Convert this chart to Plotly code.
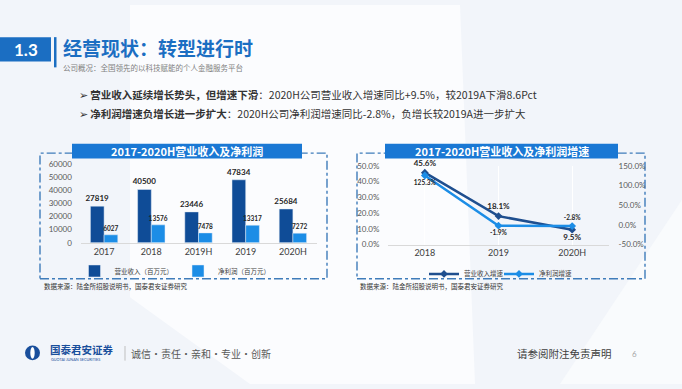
import plotly.graph_objects as go

W, H = 682, 389


def px(x):
    return x / W


def py(y):
    return 1 - y / H


# ---------------- data ----------------
bar_categories = ["2017", "2018", "2019H", "2019", "2020H"]
revenue = [27819, 40500, 23446, 47834, 25684]
net_profit = [6027, 13576, 7478, 13317, 7272]
bar_yticks = [0, 10000, 20000, 30000, 40000, 50000, 60000]

growth_categories = ["2018", "2019", "2020H"]
revenue_growth = [45.6, 18.1, 9.5]
profit_growth = [125.3, -1.9, -2.8]
left_pct_ticks = [0, 10, 20, 30, 40, 50]
right_pct_ticks = [-50, 0, 50, 100, 150]

CJK = "Noto Sans CJK SC"
NUM = "Lato, Noto Sans CJK SC"
DARK = "#0f4c97"
LIGHT = "#1c8de6"
TITLE_BLUE = "#1b6ec2"

fig = go.Figure()

# ---------------- bar chart ----------------
fig.add_trace(go.Bar(
    x=bar_categories, y=revenue, name="营业收入（百万元）",
    marker=dict(color=DARK), text=[str(v) for v in revenue],
    textposition="outside", cliponaxis=False, constraintext="none",
    textfont=dict(family=NUM, size=8, color="#262626", weight="bold"),
    xaxis="x", yaxis="y", legend="legend", offsetgroup="a",
))
fig.add_trace(go.Bar(
    x=bar_categories, y=net_profit, name="净利润（百万元）",
    marker=dict(color=LIGHT), text=[str(v) for v in net_profit],
    textposition="outside", cliponaxis=False, constraintext="none",
    textfont=dict(family=NUM, size=6.5, color="#262626", weight="bold"),
    xaxis="x", yaxis="y", legend="legend", offsetgroup="b",
))

# ---------------- line chart ----------------
fig.add_trace(go.Scatter(
    x=growth_categories, y=revenue_growth, name="营业收入增速",
    mode="lines+markers+text",
    line=dict(color="#1f4f8f", width=2.5),
    marker=dict(symbol="diamond", size=6, color="#1f4f8f"),
    text=[f"{v:.1f}%" for v in revenue_growth],
    textposition=["top center", "top center", "bottom center"],
    textfont=dict(family=NUM, size=8, color="#262626", weight="bold"),
    cliponaxis=False, xaxis="x2", yaxis="y2", legend="legend2",
))
fig.add_trace(go.Scatter(
    x=growth_categories, y=profit_growth, name="净利润增速",
    mode="lines+markers+text",
    line=dict(color=LIGHT, width=2.5),
    marker=dict(symbol="diamond", size=6, color=LIGHT),
    text=[f"{v:.1f}%" for v in profit_growth],
    textposition=["bottom center", "bottom center", "top center"],
    textfont=dict(family=NUM, size=6.5, color="#262626", weight="bold"),
    cliponaxis=False, xaxis="x2", yaxis="y3", legend="legend2",
))

tickfont = dict(family=NUM, size=8, color="#595959")

fig.update_layout(
    width=W, height=H,
    margin=dict(l=0, r=0, t=0, b=0),
    paper_bgcolor="#f2f5fa", plot_bgcolor="rgba(0,0,0,0)",
    barmode="group", bargap=0.42, bargroupgap=0,
    font=dict(family=CJK, color="#404040"),
    xaxis=dict(domain=[px(80.5), px(316.5)], anchor="y", type="category",
               showline=True, linecolor="#d9d9d9", linewidth=1, ticks="",
               tickfont=dict(family=NUM, size=9, color="#404040"), fixedrange=True),
    yaxis=dict(domain=[py(244), py(163)], anchor="x", range=[0, 60000],
               tickvals=bar_yticks, ticktext=[str(v) for v in bar_yticks],
               showgrid=False, zeroline=False,
               showline=False, ticks="outside", ticklen=6,
               tickcolor="rgba(0,0,0,0)", tickfont=tickfont),
    xaxis2=dict(domain=[px(388), px(609)], anchor="y2", type="category",
                range=[-0.5, 2.5], showline=True, linecolor="#d9d9d9",
                ticks="", tickfont=dict(family=NUM, size=9, color="#404040")),
    yaxis2=dict(domain=[py(246), py(165)], anchor="x2", range=[0, 50],
                tickvals=left_pct_ticks,
                ticktext=[f"{v:.1f}%" for v in left_pct_ticks],
                showgrid=False, zeroline=False, showline=False,
                ticks="outside", ticklen=6, tickcolor="rgba(0,0,0,0)",
                tickfont=tickfont),
    yaxis3=dict(overlaying="y2", side="right", anchor="x2", range=[-50, 150],
                tickvals=right_pct_ticks,
                ticktext=[f"{v:.1f}%" for v in right_pct_ticks],
                showgrid=False, zeroline=False, showline=False,
                ticks="outside", ticklen=7, tickcolor="rgba(0,0,0,0)",
                tickfont=tickfont),
    legend=dict(orientation="h", x=px(175), y=py(273), xanchor="center",
                yanchor="middle", bgcolor="rgba(0,0,0,0)",
                font=dict(family=CJK, size=6.5, color="#404040"),
                itemwidth=30, tracegroupgap=0),
    legend2=dict(orientation="h", x=px(499), y=py(276), xanchor="center",
                 yanchor="middle", bgcolor="rgba(0,0,0,0)",
                 font=dict(family=CJK, size=6.5, color="#404040"),
                 itemwidth=30, entrywidth=30, entrywidthmode="pixels"),
)

shapes = []
# background panels
shapes.append(dict(type="path", xref="paper", yref="paper", layer="below",
                   path=f"M {px(130)} {py(0)} L {px(460)} {py(0)} L {px(475)} {py(389)} "
                        f"L {px(250)} {py(389)} L {px(130)} {py(300)} Z",
                   fillcolor="#fbfcfe", line=dict(width=0)))
shapes.append(dict(type="path", xref="paper", yref="paper", layer="below",
                   path=f"M {px(560)} {py(389)} L {px(682)} {py(200)} L {px(682)} {py(389)} Z",
                   fillcolor="#f9fbfd", line=dict(width=0)))

# header
shapes.append(dict(type="rect", xref="paper", yref="paper", layer="below",
                   x0=px(0), x1=px(51), y0=py(58), y1=py(33),
                   fillcolor=TITLE_BLUE, line=dict(width=0)))
shapes.append(dict(type="rect", xref="paper", yref="paper", layer="below",
                   x0=px(54), x1=px(56.5), y0=py(64), y1=py(33),
                   fillcolor=TITLE_BLUE, line=dict(width=0)))

# chart frames
for x0, x1 in [(40, 327), (357, 645)]:
    shapes.append(dict(type="rect", xref="paper", yref="paper", layer="below",
                       x0=px(x0), x1=px(x1), y0=py(281), y1=py(152),
                       line=dict(color="#3f7cba", width=1.4, dash="dashdot"),
                       fillcolor="rgba(0,0,0,0)"))
# chart title bars
for x0, x1 in [(72, 302), (385, 618)]:
    shapes.append(dict(type="rect", xref="paper", yref="paper", layer="below",
                       x0=px(x0), x1=px(x1), y0=py(157.5), y1=py(142.5),
                       fillcolor="#1a78d4", line=dict(width=0)))

# footer logo
shapes.append(dict(type="circle", xref="paper", yref="paper", layer="below",
                   x0=px(25), x1=px(40), y0=py(364.5), y1=py(349.5),
                   fillcolor="#1a4f9c", line=dict(width=0)))
shapes.append(dict(type="path", xref="paper", yref="paper", layer="below",
                   path=f"M {px(32.5)} {py(349.5)} A 7.5 7.5 0 0 1 {px(32.5)} {py(364.5)} Z",
                   fillcolor="#2a8be0", line=dict(width=0)))
shapes.append(dict(type="circle", xref="paper", yref="paper", layer="below",
                   x0=px(30.3), x1=px(34.7), y0=py(363), y1=py(351),
                   fillcolor="#ffffff", line=dict(width=0)))
shapes.append(dict(type="line", xref="paper", yref="paper", layer="below",
                   x0=px(125), x1=px(125), y0=py(365), y1=py(350),
                   line=dict(color="#bfbfbf", width=1)))

fig.update_layout(shapes=shapes)

ann = []


def add_text(x, y, text, size, color, xanchor="left", bold=False, family=CJK):
    ann.append(dict(xref="paper", yref="paper", x=px(x), y=py(y), text=text,
                    showarrow=False, xanchor=xanchor, yanchor="middle",
                    font=dict(family=family, size=size, color=color,
                              weight="bold" if bold else "normal")))


add_text(25.5, 45.5, "1.3", 17, "#ffffff", xanchor="center", bold=True, family="Lato")
add_text(61, 44, "经营现状：转型进行时", 19, TITLE_BLUE, bold=True)
add_text(61, 64, "公司概况：全国领先的以科技赋能的个人金融服务平台", 7.5, "#808080")
add_text(77, 92, "➢ <b>营业收入延续增长势头，但增速下滑</b>：2020H公司营业收入增速同比+9.5%，较2019A下滑8.6Pct",
         10.5, "#333333")
add_text(77, 111, "➢ <b>净利润增速负增长进一步扩大</b>：2020H公司净利润增速同比-2.8%，负增长较2019A进一步扩大",
         10.5, "#333333")
add_text(187, 150, "2017-2020H营业收入及净利润", 11, "#ffffff", xanchor="center", bold=True)
add_text(501.5, 150, "2017-2020H营业收入及净利润增速", 11, "#ffffff", xanchor="center", bold=True)
add_text(42, 288, "数据来源：陆金所招股说明书，国泰君安证券研究", 6.5, "#333333")
add_text(358, 288, "数据来源：陆金所招股说明书，国泰君安证券研究", 6.5, "#333333")
add_text(48, 353.5, "国泰君安证券", 10.5, "#1a4f9c", bold=True)
add_text(49, 364, "GUOTAI JUNAN SECURITIES", 3.8, "#1a4f9c", family="Lato")
add_text(129, 357.5, "诚信·责任·亲和·专业·创新", 10, "#595959")
add_text(614, 357.5, "请参阅附注免责声明", 10.5, "#404040", xanchor="right")
add_text(634, 358, "6", 8, "#a6a6a6", xanchor="center", family="Lato")

fig.update_layout(annotations=ann)

fig.write_html(
    "out.html",
    config={"displayModeBar": False},
    post_script="document.body.style.margin='0';document.body.style.padding='0';"
                "document.documentElement.style.overflow='hidden';",
)
